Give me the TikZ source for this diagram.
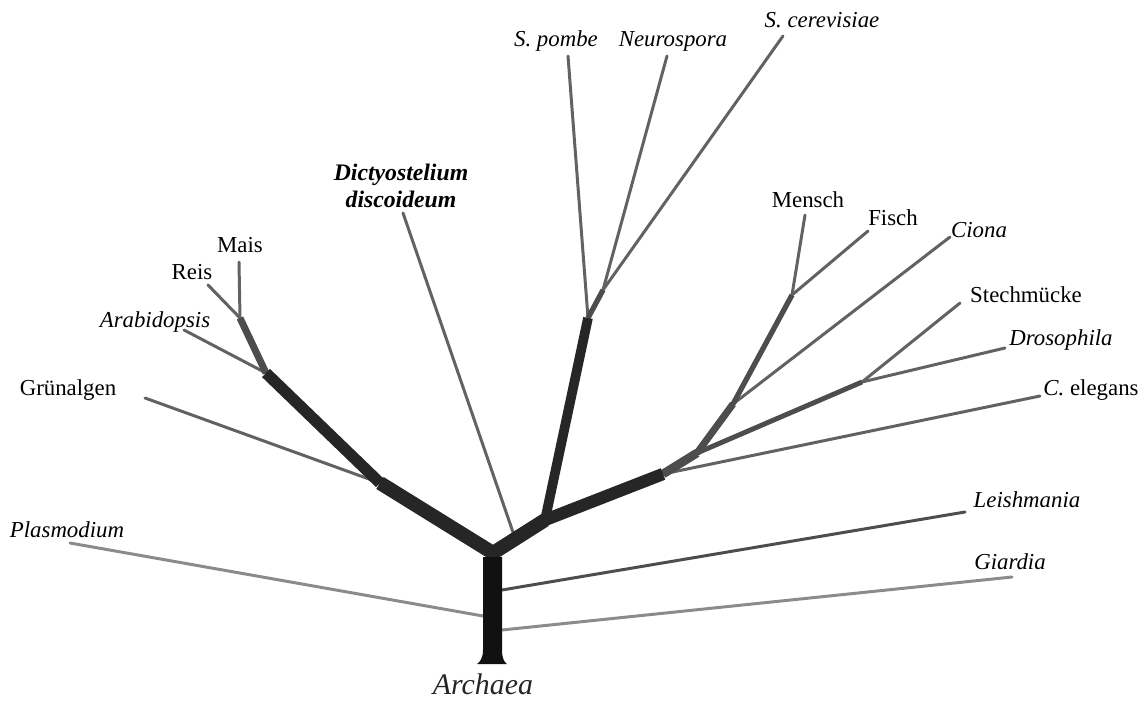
\documentclass[tikz,border=0pt]{standalone}
\usepackage{fontspec}
\setmainfont{Liberation Serif}
\definecolor{stem}{HTML}{111111}
\definecolor{bough}{HTML}{262626}
\definecolor{limb}{HTML}{4d4d4d}
\definecolor{twig}{HTML}{626262}
\definecolor{faint}{HTML}{8e8a8c}
\begin{document}
\begin{tikzpicture}[x=0.02cm, y=-0.02cm]
	\tikzset{leaf/.style={font=\fontsize{13}{15}\selectfont, inner sep=0pt}}
	\tikzset{twig/.style={color=twig, line width=1.7pt, line cap=round}}
	\tikzset{pale/.style={color=faint, line width=1.7pt, line cap=round}}
	\tikzset{limb/.style={color=limb, line join=round}}
	\tikzset{bough/.style={color=bough, line join=miter}}
	\useasboundingbox (0,0) rectangle (1145,702);
	% forks
	\coordinate (root) at (493,553);
	\coordinate (plants) at (380,483);
	\coordinate (arab) at (266,373);
	\coordinate (grass) at (240,318);
	\coordinate (fungi) at (545,520);
	\coordinate (yeast) at (588,318);
	\coordinate (asco) at (603,290);
	\coordinate (animals) at (663,474);
	\coordinate (insects) at (697,453);
	\coordinate (mosq) at (862,382);
	\coordinate (chord) at (733,404);
	\coordinate (vert) at (792,295);
	\coordinate (dicty) at (515,538);
	\coordinate (plasm) at (483,616);
	\coordinate (leish) at (502,590);
	\coordinate (giard) at (502,630);
	% tips
	\coordinate (t-mais) at (239,262);
	\coordinate (t-reis) at (208,285);
	\coordinate (t-arab) at (184,330);
	\coordinate (t-gruen) at (145,398);
	\coordinate (t-plasm) at (70,543);
	\coordinate (t-dicty) at (403,213);
	\coordinate (t-pombe) at (568,56);
	\coordinate (t-neuro) at (667,56);
	\coordinate (t-cerev) at (783,36);
	\coordinate (t-mensch) at (805,215);
	\coordinate (t-fisch) at (868,231);
	\coordinate (t-ciona) at (950,237);
	\coordinate (t-mosq) at (960,303);
	\coordinate (t-droso) at (1005,348);
	\coordinate (t-eleg) at (1040,396);
	\coordinate (t-leish) at (965,512);
	\coordinate (t-giard) at (1012,577);
	% labels
	\node[leaf] (mais) at (240,245) {Mais};
	\node[leaf] (reis) at (192,272) {Reis};
	\node[leaf] (arabidopsis) at (155,322) {\itshape Arabidopsis};
	\node[leaf] (gruen) at (68,390) {Grünalgen};
	\node[leaf] (plasmodium) at (67,530) {\itshape Plasmodium};
	\node[leaf, align=center, font=\fontsize{13.5}{15}\selectfont\bfseries\itshape] (dictyostelium) at (401,186) {Dictyostelium\\discoideum};
	\node[leaf] (pombe) at (556,41) {\itshape S. pombe};
	\node[leaf] (neurospora) at (673,41) {\itshape Neurospora};
	\node[leaf] (cerevisiae) at (822,20) {\itshape S. cerevisiae};
	\node[leaf] (mensch) at (808,200) {Mensch};
	\node[leaf] (fisch) at (893,218) {Fisch};
	\node[leaf] (ciona) at (979,230) {\itshape Ciona};
	\node[leaf] (stech) at (1026,295) {Stechmücke};
	\node[leaf] (droso) at (1061,340) {\itshape Drosophila};
	\node[leaf] (elegans) at (1091,390) {\textit{C.} elegans};
	\node[leaf] (leishmania) at (1027,500) {\itshape Leishmania};
	\node[leaf] (giardia) at (1010,562) {\itshape Giardia};
	\node[leaf, font=\fontsize{17}{20}\selectfont\itshape, text=bough] (archaea) at (483,684) {Archaea};
	% thin twigs
	\draw[pale] (t-plasm) -- (plasm);
	\draw[pale] (giard) -- (t-giard);
	\draw[twig, color=limb] (leish) -- (t-leish);
	\draw[twig] (t-gruen) -- (plants);
	\draw[twig] (t-dicty) -- (dicty);
	\draw[twig] (t-arab) -- (arab);
	\draw[twig] (t-reis) -- (grass);
	\draw[twig] (t-mais) -- (grass);
	\draw[twig] (t-pombe) -- (yeast);
	\draw[twig] (t-neuro) -- (asco);
	\draw[twig] (t-cerev) -- (asco);
	\draw[twig] (t-mensch) -- (vert);
	\draw[twig] (t-fisch) -- (vert);
	\draw[twig] (t-ciona) -- (chord);
	\draw[twig] (t-mosq) -- (mosq);
	\draw[twig] (mosq) -- (t-droso);
	\draw[twig] (animals) -- (t-eleg);
	% limbs
	\draw[limb, line width=2.8pt] (insects) -- (mosq);
	\draw[limb, line width=3pt] (yeast) -- (asco);
	\draw[limb, line width=3pt] (chord) -- (vert);
	\draw[limb, line width=4pt] (insects) -- (chord);
	\draw[limb, line width=5pt] (animals) -- (insects);
	\draw[limb, line width=4pt] (arab) -- (grass);
	% boughs
	\draw[bough, line width=5.5pt] (fungi) -- (yeast);
	\draw[bough, line width=7pt] (fungi) -- (animals);
	\draw[bough, line width=6.5pt] (plants) -- (arab);
	\draw[bough, line width=8pt] (plants) -- (root) -- (fungi);
	% trunk
	\fill[stem] (483,557) -- (502,557) -- (502,650) .. controls (502,658) and (504,662) .. (507,664)
		-- (477,664) .. controls (480,662) and (483,658) .. (483,650) -- cycle;
\end{tikzpicture}
\end{document}
